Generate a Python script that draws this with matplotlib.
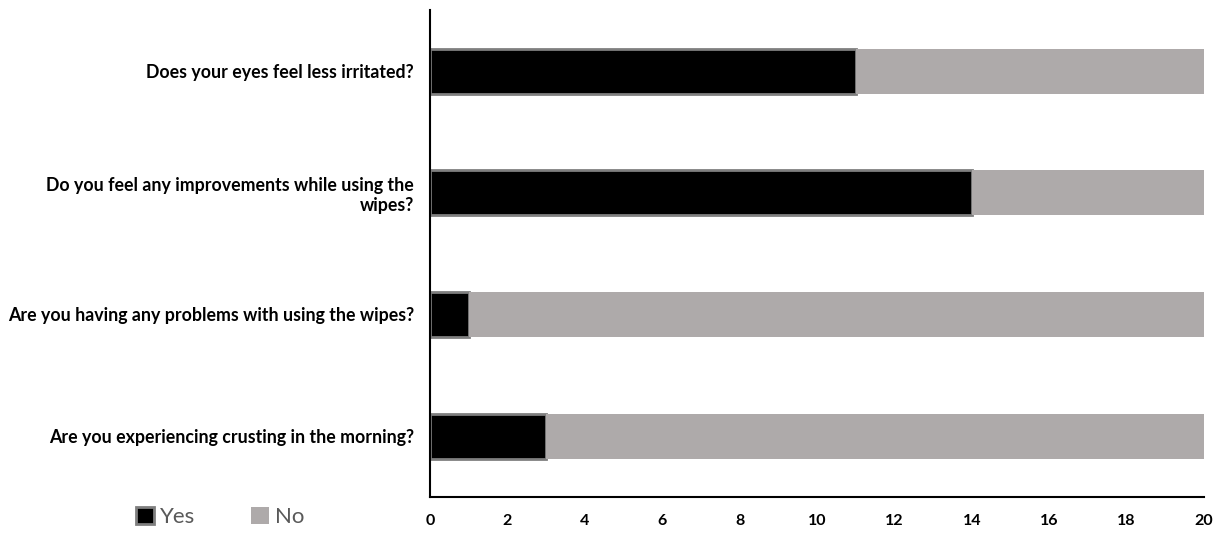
import matplotlib.pyplot as plt
import numpy as np
from matplotlib.patches import Patch

questions = [
    "Does your eyes feel less irritated?",
    "Do you feel any improvements while using the\nwipes?",
    "Are you having any problems with using the wipes?",
    "Are you experiencing crusting in the morning?",
]
yes_counts = [11, 14, 1, 3]
no_counts = [9, 6, 19, 17]
x_ticks = list(range(0, 21, 2))

plt.rcParams['font.family'] = ['Lato', 'DejaVu Sans']

fig = plt.figure(figsize=(12.24, 5.35), dpi=100)
ax = fig.add_axes([0.3513, 0.071, 0.6324, 0.91])

y = np.arange(len(questions))
bar_h = 0.37
ax.barh(y, yes_counts, height=bar_h, color="black", edgecolor="#7f7f7f", linewidth=2, label="Yes")
ax.barh(y, no_counts, left=yes_counts, height=bar_h, color="#aeaaaa", linewidth=0, label="No")

ax.set_ylim(3.5, -0.5)
ax.set_xlim(0, 20)
ax.set_xticks(x_ticks)
ax.set_xticklabels([str(t) for t in x_ticks], fontsize=11.5, fontweight="bold")
ax.set_yticks(y)
ax.set_yticklabels(questions, fontsize=12.8, fontweight="bold")
ax.tick_params(axis="both", length=0)
ax.tick_params(axis="x", pad=12)
ax.tick_params(axis="y", pad=11.5)
for lab in ax.get_yticklabels():
    lab.set_multialignment("right")

for s in ["top", "right"]:
    ax.spines[s].set_visible(False)
for s in ["left", "bottom"]:
    ax.spines[s].set_linewidth(1.5)
    ax.spines[s].set_color("black")

handles = [Patch(facecolor="black", edgecolor="#7f7f7f", linewidth=2, label="Yes"),
           Patch(facecolor="#aeaaaa", edgecolor="none", label="No")]
fig.legend(handles=handles, loc="center", bbox_to_anchor=(0.18, 0.034), ncol=2, frameon=False,
           fontsize=16, handlelength=0.8, handleheight=0.8, handletextpad=0.3, columnspacing=2.5,
           labelcolor="#595959")

fig.savefig("out.png", dpi=100)
